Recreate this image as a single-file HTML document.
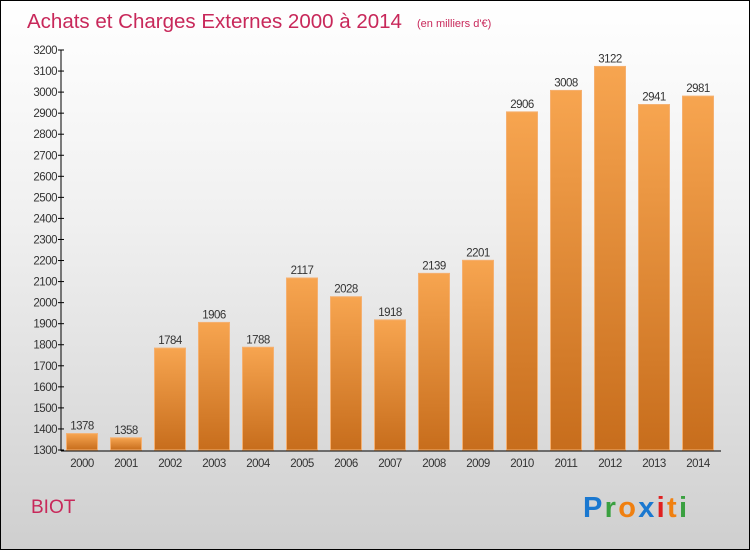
<!DOCTYPE html>
<html><head><meta charset="utf-8"><style>
body{margin:0}
#c{position:relative;width:748px;height:548px;border:1px solid #000;background:linear-gradient(#fff,#f0f0f0 40%,#cfcfcf);font-family:"Liberation Sans",sans-serif;overflow:hidden}
</style></head><body>
<div id="c">
<svg width="748" height="548" style="position:absolute;left:0;top:0" id="svg">
<defs><linearGradient id="g" x1="0" y1="0" x2="0" y2="1"><stop offset="0" stop-color="#f7a550"/><stop offset="1" stop-color="#c76d1c"/></linearGradient></defs>
<text x="26" y="27" font-size="20.5" fill="#c8285a">Achats et Charges Externes 2000 à 2014</text>
<text x="416" y="26" font-size="11" fill="#c8285a">(en milliers d'€)</text>
<text x="30" y="512" font-size="19" fill="#c8285a">BIOT</text>
<text x="582" y="516" font-size="29" font-weight="bold" font-family="Liberation Sans, sans-serif" textLength="104"><tspan fill="#1a78d0">P</tspan><tspan fill="#3aa040">r</tspan><tspan fill="#f08010">o</tspan><tspan fill="#1a78d0">x</tspan><tspan fill="#e02020">i</tspan><tspan fill="#f08010">t</tspan><tspan fill="#3aa040">i</tspan></text>
<g id="plot"></g>
</svg>
</div>
<script>
const years=["2000","2001","2002","2003","2004","2005","2006","2007","2008","2009","2010","2011","2012","2013","2014"];
const values=[1378,1358,1784,1906,1788,2117,2028,1918,2139,2201,2906,3008,3122,2941,2981];
const yTicks=[1300,1400,1500,1600,1700,1800,1900,2000,2100,2200,2300,2400,2500,2600,2700,2800,2900,3000,3100,3200];
const ns="http://www.w3.org/2000/svg",P=document.getElementById('plot');
const y=v=>449-(v-1300)*400/1900, x=i=>81+i*44;
function mk(t,a,txt){const e=document.createElementNS(ns,t);for(const k in a)e.setAttribute(k,a[k]);if(txt!==undefined)e.textContent=txt;P.appendChild(e);return e;}
let e=mk('line',{x1:60,y1:49,x2:60,y2:450,stroke:'#000'});

e=mk('line',{x1:60,y1:450,x2:720,y2:450,stroke:'#000'});

yTicks.forEach(t=>{const l=mk('line',{x1:57,x2:63,y1:y(t),y2:y(t),stroke:'#000'});

const tx=mk('text',{x:56,y:y(t)+4,'font-size':11.5,'text-anchor':'end',fill:'#333','letter-spacing':'-0.5'},t);
});
values.forEach((v,i)=>{const r=mk('rect',{x:x(i)-15.5,y:y(v),width:31,height:449-y(v),fill:'url(#g)',stroke:'#f5b070','stroke-width':1});

const vl=mk('text',{x:x(i),y:y(v)-4,'font-size':11.5,'text-anchor':'middle',fill:'#333','letter-spacing':'-0.5'},v);

const xl=mk('text',{x:x(i),y:466,'font-size':11.5,'text-anchor':'middle',fill:'#333','letter-spacing':'-0.5'},years[i]);
});
</script>
</body></html>
